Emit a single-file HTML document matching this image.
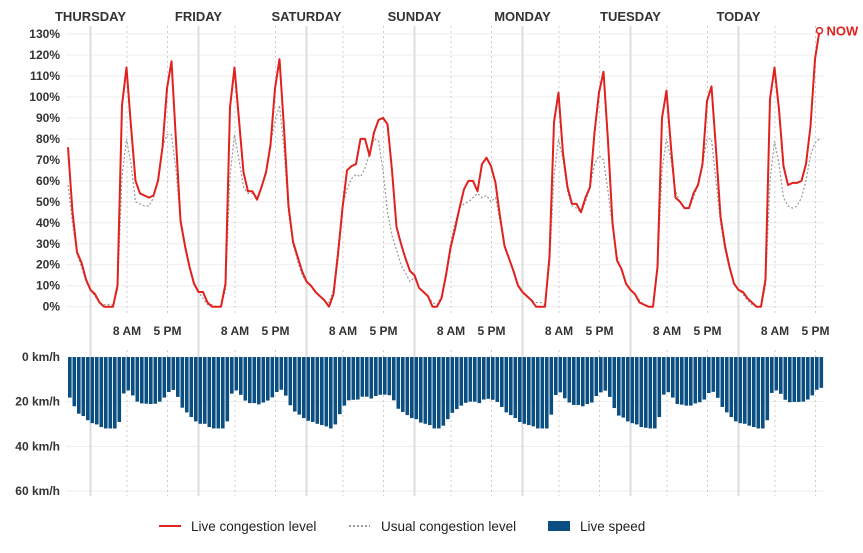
<!DOCTYPE html>
<html><head><meta charset="utf-8"><style>
html,body{margin:0;padding:0;background:#fff;}
svg{display:block;font-family:"Liberation Sans",sans-serif;}
</style></head><body>
<svg id="s" width="863" height="553" viewBox="0 0 863 553"></svg>
<script>
var live=[76,45,26,21,13,
 8,6,2,0,0,0,10,96,114,86,60,54,53,52,53,60,76,104,117,79,41,29,19,11,
 7,7,2,0,0,0,11,95,114,89,64,55,55,51,57,64,77,104,118,85,48,31,24,17,
 12,10,7,5,3,0,6,25,47,65,67,68,80,80,72,83,89,90,87,65,38,30,23,17,
 15,9,7,5,0,0,4,15,28,37,47,56,60,60,55,68,71,67,59,43,29,23,17,10,
 7,5,3,0,0,0,24,88,102,73,57,49,49,45,52,57,83,102,112,79,40,22,18,11,
 8,6,2,1,0,0,19,90,103,76,52,50,47,47,54,58,68,98,105,75,43,29,19,11,
 8,7,4,2,0,0,13,99,114,94,67,58,59,59,60,68,86,118,131.6];
var usual=[58,40,25,19,12,
 8,5,2,1,1,1,8,62,80,68,50,49,48,48,52,60,76,82,82,65,40,28,19,11,
 7,4,1,1,0,0,8,62,82,70,57,54,54,52,57,65,78,88,96,75,45,30,22,15,
 12,10,7,5,3,2,8,28,48,56,61,63,62,66,73,80,79,65,45,34,27,20,16,12,
 10,8,6,4,2,1,4,16,30,40,48,50,52,54,53,50,40,32,26,20,15,10,7,5,
 7,5,3,2,2,1,20,62,80,70,55,48,47,45,50,57,68,72,70,55,38,24,17,11,
 8,6,3,1,0,0,18,65,80,70,55,50,47,47,52,58,68,80,80,60,40,27,18,11,
 8,6,3,1,0,0,10,60,79,68,52,48,47,48,52,60,72,78,80];
// fix sunday usual to track live more closely
for(var k=0;k<24;k++){var i=5+72+k;var l=live[i];var u=[14,9,7,5,2,1,5,16,30,40,47,49,50,52,54,52,50,45,55,41,29,23,17,11][k];usual[i]=u;}
usual[5+72+16]=53;usual[5+72+17]=50;usual[5+72+18]=52;
var X=function(i){return 68+4.5*i;};
var Y=function(v){return 306.7-2.098*v;};
var h='';
// grid
for(var v=0;v<=130;v+=10){h+='<line x1="66" x2="824" y1="'+Y(v)+'" y2="'+Y(v)+'" stroke="#eeeeee" stroke-width="1"/>';
 h+='<text x="60" y="'+(Y(v)+4)+'" text-anchor="end" font-size="12" font-weight="bold" fill="#333">'+v+'%</text>';}
var SY=function(s){return 357+2.233*s;};
[20,40,60].forEach(function(s){h+='<line x1="66" x2="824" y1="'+SY(s)+'" y2="'+SY(s)+'" stroke="#eeeeee"/>';});
[0,20,40,60].forEach(function(s){h+='<text x="60" y="'+(SY(s)+4)+'" text-anchor="end" font-size="12" font-weight="bold" fill="#333">'+s+' km/h</text>';});
var days=['THURSDAY','FRIDAY','SATURDAY','SUNDAY','MONDAY','TUESDAY','TODAY'];
for(var d=0;d<7;d++){var mx=X(5+24*d);
 h+='<line x1="'+mx+'" x2="'+mx+'" y1="26" y2="496" stroke="#dddddd" stroke-width="2"/>';
 h+='<text x="'+mx+'" y="21" text-anchor="middle" font-size="13" font-weight="bold" fill="#333">'+days[d]+'</text>';
 [8,17].forEach(function(hr){var x=mx+4.5*hr+0.5;
  h+='<line x1="'+x+'" x2="'+x+'" y1="26" y2="316" stroke="#cccccc" stroke-dasharray="2,3"/>';
  h+='<line x1="'+x+'" x2="'+x+'" y1="350" y2="496" stroke="#cccccc" stroke-dasharray="2,3"/>';
  h+='<text x="'+x+'" y="335" text-anchor="middle" font-size="12" font-weight="bold" fill="#333">'+(hr==8?'8 AM':'5 PM')+'</text>';});
}
// bars
for(var i=0;i<live.length;i++){var s=32/(1+live[i]/100);
 h+='<rect x="'+X(i)+'" y="357" width="3.6" height="'+(2.233*s)+'" fill="#0b4f82"/>';}
// lines
var pu=usual.map(function(v,i){return X(i)+','+Y(v);}).join(' ');
h+='<polyline points="'+pu+'" fill="none" stroke="#999" stroke-width="1.2" stroke-dasharray="2,2"/>';
var pl=live.map(function(v,i){return X(i)+','+Y(v);}).join(' ');
h+='<polyline points="'+pl+'" fill="none" stroke="#e0211d" stroke-width="2" stroke-linejoin="round"/>';
var lx=X(live.length-1),ly=Y(live[live.length-1]);
h+='<circle cx="'+lx+'" cy="'+ly+'" r="3" fill="#fff" stroke="#e0211d" stroke-width="1.5"/>';
h+='<text x="'+(lx+7)+'" y="'+(ly+5)+'" font-size="13" font-weight="bold" fill="#e0211d">NOW</text>';
// legend
h+='<line x1="159" x2="181" y1="526" y2="526" stroke="#e0211d" stroke-width="2"/>';
h+='<text x="191" y="531" font-size="13.5" fill="#222">Live congestion level</text>';
h+='<line x1="349" x2="370" y1="526" y2="526" stroke="#999" stroke-width="2" stroke-dasharray="2,2"/>';
h+='<text x="381" y="531" font-size="13.5" fill="#222">Usual congestion level</text>';
h+='<rect x="548" y="521" width="22" height="10" fill="#0b4f82"/>';
h+='<text x="580" y="531" font-size="13.5" fill="#222">Live speed</text>';
document.getElementById('s').innerHTML=h;
</script>
</body></html>
